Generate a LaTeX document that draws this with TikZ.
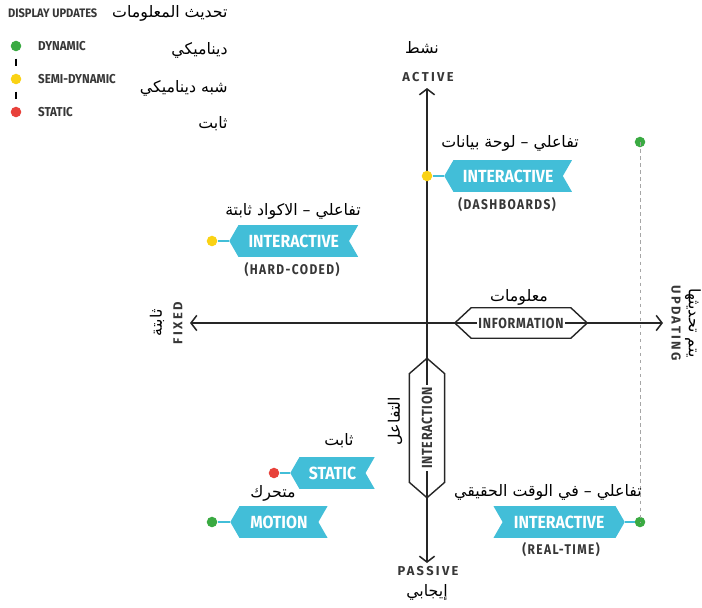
\documentclass[tikz,border=0pt]{standalone}
\usepackage{fontspec}
\setmainfont{Fira Sans}
\newfontfamily\condfont[FakeStretch=0.9]{Fira Sans}
\newfontfamily\trackfont[FakeStretch=0.85,LetterSpace=10]{Fira Sans}
\newfontfamily\hexfont[FakeStretch=0.85,LetterSpace=5]{Fira Sans}
\newfontfamily\widefont[LetterSpace=18]{Fira Sans}
\newfontfamily\arabicfont[Script=Arabic]{DejaVu Sans}
\TeXXeTstate=1
\usetikzlibrary{arrows.meta,shapes.symbols}

\definecolor{tagcyan}{RGB}{66,190,216}
\definecolor{dotgreen}{RGB}{58,170,66}
\definecolor{dotyellow}{RGB}{250,210,20}
\definecolor{dotred}{RGB}{232,65,58}
\definecolor{inkgray}{RGB}{55,55,55}

\newcommand{\artext}[1]{{\arabicfont\beginR #1\endR}}

\tikzset{
  axisline/.style={line width=1.3pt, black!85,
    {Straight Barb[length=5pt,width=13pt]}-{Straight Barb[length=5pt,width=13pt]}},
  tag/.style={shape=signal, fill=tagcyan, text=white, signal pointer angle=120,
    minimum height=27pt, inner sep=2pt, font=\condfont\bfseries\fontsize{15}{15}\selectfont},
  tagleft/.style={tag, signal to=west, signal from=east, anchor=west},
  tagright/.style={tag, signal to=east, signal from=west, anchor=east},
  hexa/.style={shape=signal, signal to=west and east, draw=black!85, line width=1.2pt,
    inner sep=1pt, text=inkgray, font=\hexfont\bfseries\fontsize{12.5}{12.5}\selectfont},
  dot/.style={circle, minimum size=9pt, inner sep=0pt},
  stem/.style={tagcyan, line width=2pt},
  sublabel/.style={text=inkgray, font=\trackfont\bfseries\fontsize{12}{12}\selectfont},
  axislabel/.style={text=inkgray, font=\widefont\bfseries\fontsize{11}{11}\selectfont},
  legendlabel/.style={text=inkgray, anchor=west, font=\condfont\bfseries\fontsize{11}{11}\selectfont},
  arlabel/.style={font=\fontsize{13.5}{13.5}\selectfont, inner sep=1pt},
}

\begin{document}
\begin{tikzpicture}[x=0.03cm, y=-0.03cm]
  \useasboundingbox (0,0) rectangle (702,607);
  \fboxsep=1.5pt

  % legend
  \node[legendlabel, font=\condfont\bfseries\fontsize{10.5}{10.5}\selectfont] (legtitle) at (4,13) {DISPLAY UPDATES};
  \node[arlabel, anchor=east] (legtitlear) at (229,13) {\artext{تحديث المعلومات}};
  \node[dot, fill=dotgreen] (legdyn) at (16,46) {};
  \node[dot, fill=dotyellow] (legsemi) at (16,79) {};
  \node[dot, fill=dotred] (legstat) at (16,112) {};
  \draw[line width=1.2pt, shorten <=6pt, shorten >=6pt] (legdyn) -- (legsemi);
  \draw[line width=1.2pt, shorten <=6pt, shorten >=6pt] (legsemi) -- (legstat);
  \node[legendlabel] (lbldyn) at (34,46) {DYNAMIC};
  \node[legendlabel] (lblsemi) at (34,79) {SEMI-DYNAMIC};
  \node[legendlabel] (lblstat) at (34,112) {STATIC};
  \node[arlabel, anchor=east] (ardyn) at (229,50) {\artext{ديناميكي}};
  \node[arlabel, anchor=east] (arsemi) at (229,88) {\artext{شبه ديناميكي}};
  \node[arlabel, anchor=east] (arstat) at (229,124) {\artext{ثابت}};

  % axes
  \coordinate (active) at (427,88);
  \coordinate (passive) at (427,563);
  \coordinate (fixed) at (190,323);
  \coordinate (updating) at (663,323);
  \draw[axisline] (fixed) -- (updating);
  \draw[axisline] (active) -- (passive);

  \node[axislabel] (activelbl) at (428,77) {ACTIVE};
  \node[arlabel] (activear) at (422,48) {\artext{نشط}};
  \node[axislabel] (passivelbl) at (428,571) {PASSIVE};
  \node[arlabel] (passivear) at (427,592) {\artext{إيجابي}};
  \node[axislabel, rotate=90] (fixedlbl) at (178,323) {FIXED};
  \node[arlabel, rotate=90] (fixedar) at (157,323) {\artext{ثابتة}};
  \node[axislabel, rotate=-90] (updlbl) at (676,323) {UPDATING};
  \node[arlabel, rotate=-90] (updar) at (693,323) {\artext{يتم تحديثها}};

  \node[hexa, minimum width=113pt, minimum height=26pt, signal pointer angle=86] (info) at (521,323) {\colorbox{white}{INFORMATION}};
  \node[arlabel] (infoar) at (519,297) {\artext{معلومات}};
  \node[hexa, rotate=90, minimum width=119pt, minimum height=30pt, signal pointer angle=98] (inter) at (427,428) {\colorbox{white}{INTERACTION}};
  \node[arlabel, rotate=90] (interar) at (395,421) {\artext{التفاعل}};

  % guide line
  \node[dot, fill=dotgreen] (dyntop) at (640,142) {};
  \node[dot, fill=dotgreen] (dynrt) at (640,522) {};
  \draw[gray!70, dashed, line width=0.5pt] (dyntop.center) -- (dynrt.center);

  % dashboards
  \node[tagleft, minimum width=109pt] (dash) at (444,176) {INTERACTIVE};
  \node[dot, fill=dotyellow] (dashdot) at (427,176) {};
  \draw[stem] (dashdot) -- (dash.west);
  \node[sublabel] (dashsub) at (507,205) {(DASHBOARDS)};
  \node[arlabel] (dashar) at (510,143) {\artext{تفاعلي – لوحة بيانات}};

  % hard-coded
  \node[tagleft, minimum width=110pt] (hard) at (229,241) {INTERACTIVE};
  \node[dot, fill=dotyellow] (harddot) at (212,241) {};
  \draw[stem] (harddot) -- (hard.west);
  \node[sublabel] (hardsub) at (292,270) {(HARD-CODED)};
  \node[arlabel] (hardar) at (293,211) {\artext{تفاعلي – الاكواد ثابتة}};

  % static
  \node[tagleft, minimum width=72pt] (stat) at (290,473) {STATIC};
  \node[dot, fill=dotred] (statdot) at (274,473) {};
  \draw[stem] (statdot) -- (stat.west);
  \node[arlabel] (statar) at (339,441) {\artext{ثابت}};

  % motion
  \node[tagleft, minimum width=83pt] (motion) at (230,522) {MOTION};
  \node[dot, fill=dotgreen] (motiondot) at (212,522) {};
  \draw[stem] (motiondot) -- (motion.west);
  \node[arlabel] (motionar) at (273,493) {\artext{متحرك}};

  % real-time
  \node[tagright, minimum width=112pt] (real) at (625,522) {INTERACTIVE};
  \draw[stem] (real.east) -- (dynrt);
  \node[sublabel] (realsub) at (561,550) {(REAL-TIME)};
  \node[arlabel] (realar) at (548,492) {\artext{تفاعلي – في الوقت الحقيقي}};
\end{tikzpicture}
\end{document}
